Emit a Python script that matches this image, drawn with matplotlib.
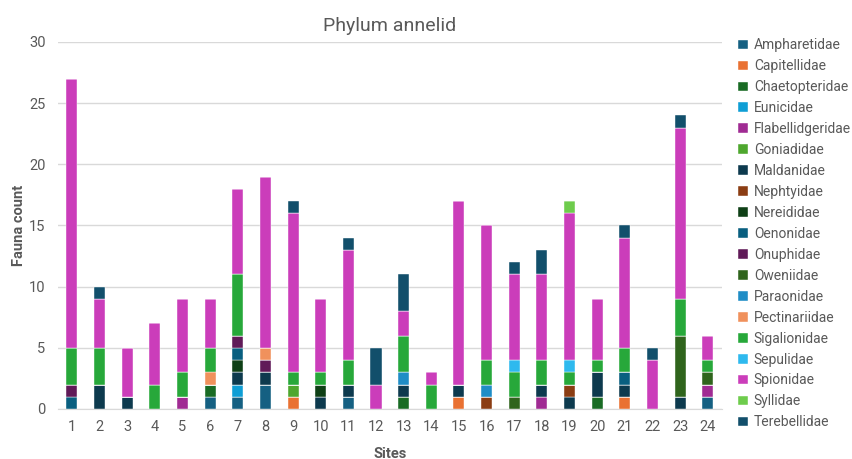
import numpy as np
import matplotlib
matplotlib.use('Agg')
import matplotlib.pyplot as plt

plt.rcParams['font.family'] = ['Liberation Sans Narrow', 'Roboto', 'DejaVu Sans']

# sites 1..24
sites = [str(i) for i in range(1, 25)]

families = ['Ampharetidae', 'Capitellidae', 'Chaetopteridae', 'Eunicidae',
            'Flabellidgeridae', 'Goniadidae', 'Maldanidae', 'Nephtyidae',
            'Nereididae', 'Oenonidae', 'Onuphidae', 'Oweniidae', 'Paraonidae',
            'Pectinariidae', 'Sigalionidae', 'Sepulidae', 'Spionidae',
            'Syllidae', 'Terebellidae']

ampharetidae     = [0,0,0,0,0,1,1,2,0,0,1,0,0,0,0,0,0,0,0,0,0,0,0,1]
capitellidae     = [0,0,0,0,0,0,0,0,1,0,0,0,0,0,1,0,0,0,0,0,1,0,0,0]
chaetopteridae   = [0,0,0,0,0,1,0,0,0,0,0,0,1,0,0,0,0,0,0,1,0,0,0,0]
eunicidae        = [0,0,0,0,0,0,1,0,0,0,0,0,0,0,0,0,0,0,0,0,0,0,0,0]
flabellidgeridae = [0,0,0,0,1,0,0,0,0,0,0,0,0,0,0,0,0,1,0,0,0,0,0,1]
goniadidae       = [0,0,0,0,0,0,0,0,1,0,0,0,0,0,0,0,0,0,0,0,0,0,0,0]
maldanidae       = [0,2,1,0,0,0,1,1,0,1,1,0,1,0,1,0,0,1,1,2,1,0,1,0]
nephtyidae       = [0,0,0,0,0,0,0,0,0,0,0,0,0,0,0,1,0,0,1,0,0,0,0,0]
nereididae       = [0,0,0,0,0,0,1,0,0,1,0,0,0,0,0,0,0,0,0,0,0,0,0,0]
oenonidae        = [1,0,0,0,0,0,1,0,0,0,0,0,0,0,0,0,0,0,0,0,1,0,0,0]
onuphidae        = [1,0,0,0,0,0,1,1,0,0,0,0,0,0,0,0,0,0,0,0,0,0,0,0]
oweniidae        = [0,0,0,0,0,0,0,0,0,0,0,0,0,0,0,0,1,0,0,0,0,0,5,1]
paraonidae       = [0,0,0,0,0,0,0,0,0,0,0,0,1,0,0,1,0,0,0,0,0,0,0,0]
pectinariidae    = [0,0,0,0,0,1,0,1,0,0,0,0,0,0,0,0,0,0,0,0,0,0,0,0]
sigalionidae     = [3,3,0,2,2,2,5,0,1,1,2,0,3,2,0,2,2,2,1,1,2,0,3,1]
sepulidae        = [0,0,0,0,0,0,0,0,0,0,0,0,0,0,0,0,1,0,1,0,0,0,0,0]
spionidae        = [22,4,4,5,6,4,7,14,13,6,9,2,2,1,15,11,7,7,12,5,9,4,14,2]
syllidae         = [0,0,0,0,0,0,0,0,0,0,0,0,0,0,0,0,0,0,1,0,0,0,0,0]
terebellidae     = [0,1,0,0,0,0,0,0,1,0,1,3,3,0,0,0,1,2,0,0,1,1,1,0]

counts = [ampharetidae, capitellidae, chaetopteridae, eunicidae,
          flabellidgeridae, goniadidae, maldanidae, nephtyidae, nereididae,
          oenonidae, onuphidae, oweniidae, paraonidae, pectinariidae,
          sigalionidae, sepulidae, spionidae, syllidae, terebellidae]

colors = ['#156082', '#E97132', '#196B24', '#0F9ED5', '#A02B93', '#4EA72E',
          '#0D3A4E', '#8B3D13', '#0F4016', '#095F80', '#601A58', '#2F641C',
          '#1F8DC6', '#F0915C', '#27A83A', '#2EB9EE', '#CB3DBA', '#6ECC4C',
          '#124F6B']

text_gray = '#595959'
grid_gray = '#D9D9D9'

fig = plt.figure(figsize=(8.53, 4.59), dpi=100)
ax = fig.add_axes([0.068, 0.109, 0.778, 0.7995])

x = np.arange(len(sites))
bottom = np.zeros(len(sites))
for name, vals, col in zip(families, counts, colors):
    vals = np.array(vals, dtype=float)
    ax.bar(x, vals, width=0.4, bottom=bottom, color=col, label=name,
           edgecolor='white', linewidth=0.3, zorder=3)
    bottom += vals

ax.set_xlim(-0.5, len(sites) - 0.5)
ax.set_ylim(0, 30)
ax.set_yticks(range(0, 31, 5))
ax.set_xticks(x)
ax.set_xticklabels(sites)
ax.yaxis.grid(True, color=grid_gray, linewidth=1, zorder=0)
for side in ['top', 'right', 'left']:
    ax.spines[side].set_visible(False)
ax.spines['bottom'].set_color(grid_gray)
ax.tick_params(axis='both', length=0, colors=text_gray, labelsize=10.5)
ax.tick_params(axis='y', pad=9)
ax.tick_params(axis='x', pad=8)

ax.set_title('Phylum annelid', color=text_gray, fontsize=14, pad=8)
ax.set_xlabel('Sites', color=text_gray, fontsize=10.5, fontweight='bold', labelpad=9)
ax.set_ylabel('Fauna count', color=text_gray, fontsize=10.5, fontweight='bold', labelpad=2)

leg = ax.legend(loc='upper left', bbox_to_anchor=(1.017, 1.025), frameon=False,
                fontsize=10, handlelength=0.7, handleheight=0.7,
                handletextpad=0.4, labelspacing=0.5, borderaxespad=0.0)
for t in leg.get_texts():
    t.set_color(text_gray)

fig.savefig('out.png', dpi=100)
